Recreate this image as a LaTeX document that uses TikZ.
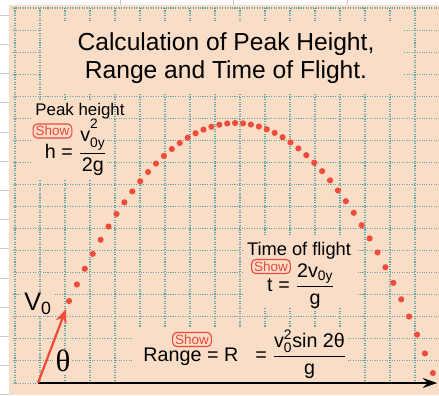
\documentclass[tikz,border=0pt]{standalone}
\usepackage{fontspec}
\usepackage{amsmath}
\setmainfont{Liberation Sans}
\newfontfamily\thetafont{Liberation Serif}
\usetikzlibrary{arrows.meta}
\usetikzlibrary{positioning}

\definecolor{panel}{RGB}{249,221,198}
\definecolor{gridteal}{RGB}{95,165,165}
\definecolor{dotred}{RGB}{240,76,60}
\definecolor{showred}{RGB}{236,72,60}
\definecolor{screengray}{RGB}{205,205,205}

\begin{document}
\begin{tikzpicture}[x=0.025cm, y=-0.025cm,
	gridline/.style={densely dotted, draw=gridteal, line width=0.75pt},
	showbtn/.style={rectangle, draw=showred, text=showred, rounded corners=3pt, line width=0.8pt, inner sep=0pt, minimum width=27.5pt, minimum height=10pt, font=\fontsize{9.6}{10}\selectfont},
	lbl/.style={inner sep=0pt, anchor=base},
	eqn/.style={inner sep=0pt, anchor=base, font=\fontsize{14}{16}\selectfont}]
	\useasboundingbox (0,0) rectangle (439,395);

	% --- Background ---
	\fill[white] (0,0) rectangle (439,395);
	\foreach \r in {0,...,13}
		\draw[screengray, line width=0.4pt] (0,{15+29.2*\r}) -- (9,{15+29.2*\r});
	\foreach \c in {120,233,347}
		\draw[screengray, line width=0.4pt] (\c,0) -- (\c,5);
	\fill[panel] (9,5) rectangle (439,395);

	% --- Grid ---
	\foreach \r in {0,...,17}
		\draw[gridline] (13,{8+22.06*\r}) -- (439,{8+22.06*\r});
	\foreach \c in {0,...,16}
		\draw[gridline] ({15+25*\c},8) -- ({15+25*\c},383);

	% blank areas behind the texts
	\fill[panel] (41,22) rectangle (404,94);
	\fill[panel] (33,100) rectangle (107,180);
	\fill[panel] (243,236) rectangle (356,308);
	\fill[panel] (133,327) rectangle (347,381);

	% --- Title ---
	\node[align=center, inner sep=0pt, font=\fontsize{17.5}{20}\selectfont] (title) at (226,58)
		{Calculation of Peak Height,\\Range and Time of Flight.};

	% --- Trajectory ---
	\foreach \i in {0,...,46} {
		\pgfmathsetmacro{\px}{69+7.91*\i}
		\pgfmathsetmacro{\py}{123+(0.08012*(\px-235.5))^2}
		\fill[dotred] (\px,\py) circle[radius=2.2pt];
	}

	% --- Launch ---
	\coordinate (launch) at (38,383);
	\coordinate (vtip) at (66,309);
	\coordinate (axisend) at (437,383);
	\draw[line width=1.9pt, -{Stealth[length=10pt, width=7pt]}] (launch) -- (axisend);
	\draw[dotred, line width=1.6pt, -{Stealth[length=10pt, width=8pt]}] (launch) -- (vtip);
	\node[fill=panel, inner sep=1pt, font=\fontsize{18}{20}\selectfont] (vzero) at (38,304) {V\textsubscript{0}};
	\node[fill=panel, inner sep=1pt, font=\thetafont\fontsize{22}{24}\selectfont] (theta) at (63,361) {θ};

	% --- Peak height ---
	\node[lbl, font=\fontsize{12}{14}\selectfont] (peaklbl) at (80,115) {Peak height};
	\node[showbtn] (peakshow) at (52.5,131) {Show};
	\node[eqn] (peakeq) at (76,158)
		{$\text{h} \mathrel{\text{=}} \dfrac{\text{v}_{\text{0y}}^{\raisebox{4pt}{$\scriptstyle\text{2}$}}}{\text{2g}}$};

	% --- Time of flight ---
	\node[lbl, font=\fontsize{13}{15}\selectfont] (timelbl) at (299,255) {Time of flight};
	\node[showbtn] (timeshow) at (271,266.5) {Show};
	\node[eqn] (timeeq) at (301,291)
		{$\text{t} \mathrel{\text{=}} \dfrac{\text{2v}_{\text{0y}}}{\text{g}}$};

	% --- Range ---
	\node[showbtn] (rangeshow) at (192,339.5) {Show};
	\node[eqn] (rangeeq) at (245,361)
		{$\text{Range} \mathrel{\text{=}} \text{R}\;\; \mathrel{\text{=}} \dfrac{\text{v}_{\text{0}}^{\text{2}}\text{sin 2θ}}{\text{g}}$};
\end{tikzpicture}
\end{document}
